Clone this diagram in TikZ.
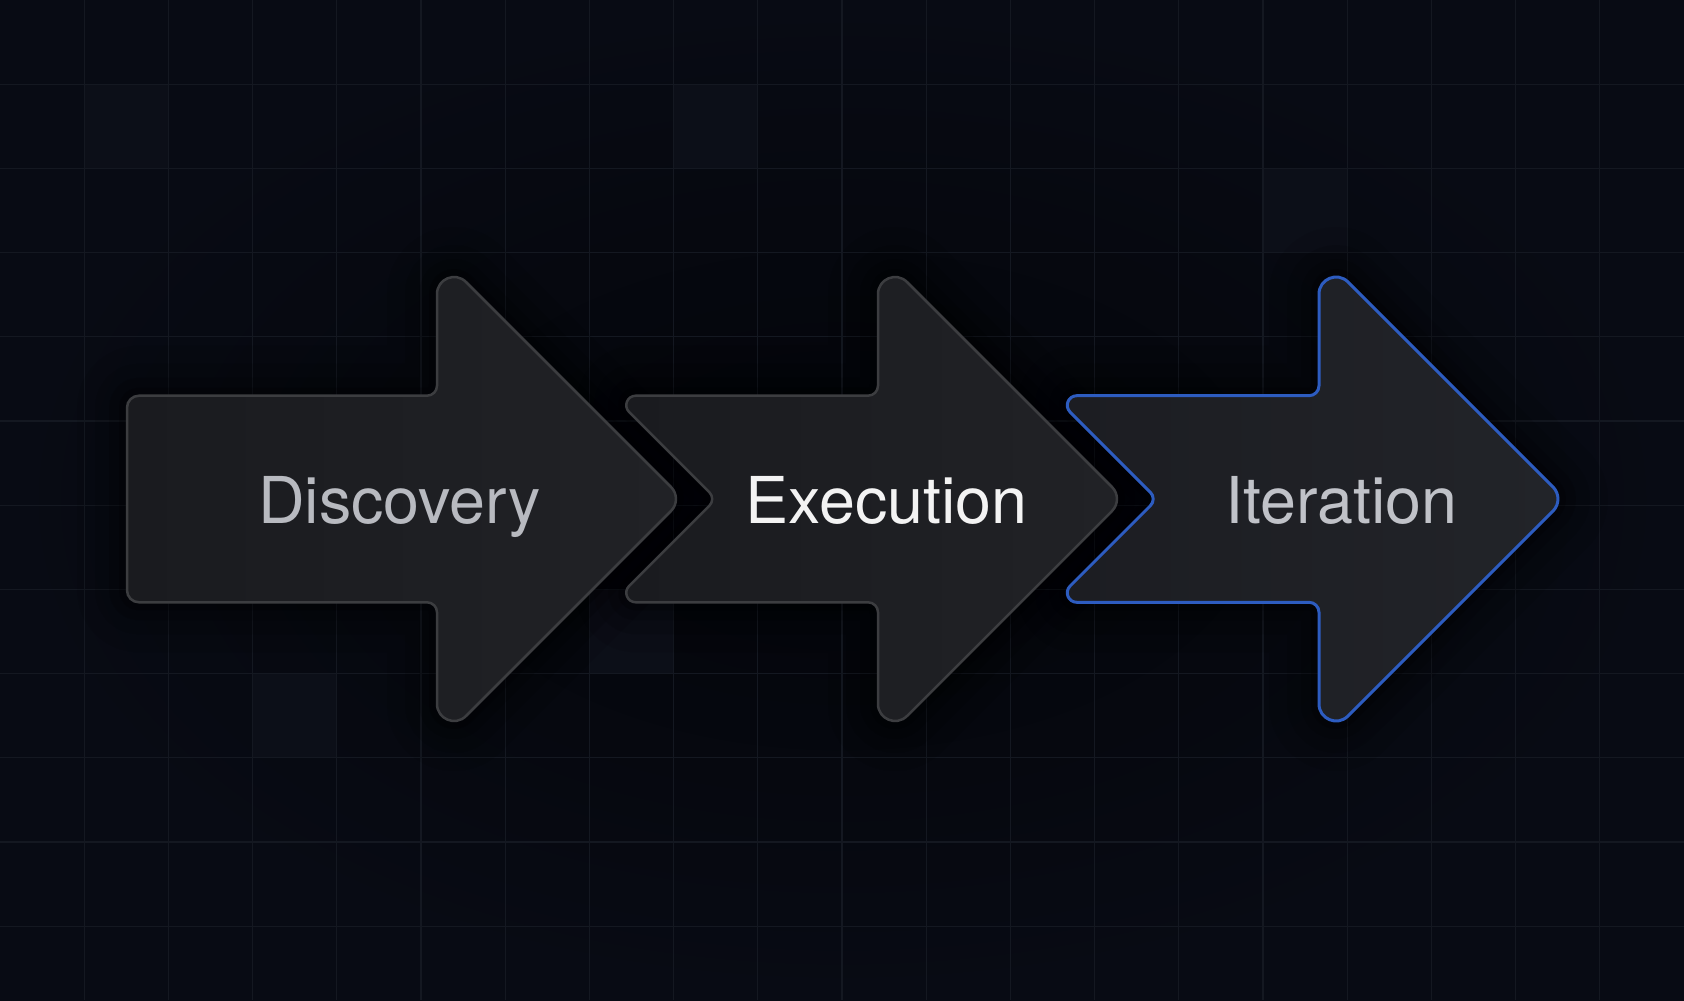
\documentclass[tikz,border=0pt]{standalone}
\usepackage{fontspec}
\setmainfont{TeX Gyre Heros}
\definecolor{bgedge}{HTML}{080B14}
\definecolor{bgmid}{HTML}{030409}
\definecolor{cellc}{HTML}{0C0F18}
\definecolor{gridc}{HTML}{141821}
\definecolor{arrowL}{HTML}{1A1B1F}
\definecolor{arrowR}{HTML}{212226}
\definecolor{iterL}{HTML}{1C1D22}
\definecolor{iterR}{HTML}{222429}
\definecolor{edgegray}{HTML}{3C3D40}
\definecolor{edgeblue}{HTML}{2D5CC0}
\definecolor{txtgray}{HTML}{B8BAC0}
\definecolor{txtwhite}{HTML}{F3F3F3}
\definecolor{txtgraytwo}{HTML}{C0C2C8}
\begin{document}
\begin{tikzpicture}[x=0.5pt,y=-0.5pt,
  headpart/.style={insert path={-- (-10,-103.3) .. controls (-4.48,-103.3) and (0,-107.78) .. (0,-113.3)
     -- (0,-205) .. controls (0,-220.1) and (18.31,-227.69) .. (28.99,-217.01)
     -- (233.98,-12.02) .. controls (240.61,-5.39) and (240.61,5.39) .. (233.98,12.02)
     -- (28.99,217.01) .. controls (18.31,227.69) and (0,220.1) .. (0,205)
     -- (0,113.3) .. controls (0,107.78) and (-4.48,103.3) .. (-10,103.3)}},
  discshape/.style={insert path={(-298,-103.3) [headpart]
     -- (-298,103.3) .. controls (-304.62,103.3) and (-310,97.92) .. (-310,91.3)
     -- (-310,-91.3) .. controls (-310,-97.92) and (-304.62,-103.3) .. (-298,-103.3) -- cycle}},
  notchshape/.style={insert path={(-242.2,-103.3) [headpart]
     -- (-242.2,103.3) .. controls (-250.7,103.3) and (-254.95,93.05) .. (-248.94,87.04)
     -- (-168.62,6.72) .. controls (-164.91,3.01) and (-164.91,-3.01) .. (-168.62,-6.72)
     -- (-248.94,-87.04) .. controls (-254.95,-93.05) and (-250.7,-103.3) .. (-242.2,-103.3) -- cycle}},
  halo/.style={draw=black, fill=black, line join=round},
  arrowbox/.style={left color=arrowL, right color=arrowR, draw=edgegray, line width=1.25pt, line join=round},
  activebox/.style={left color=iterL, right color=iterR, draw=edgeblue, line width=1.5pt, line join=round},
  lbl/.style={inner sep=0pt, anchor=base, font=\fontsize{32.3}{38}\selectfont}
]
% background
\useasboundingbox (0,0) rectangle (1684,1000);
\shade[inner color=bgmid, outer color=bgedge] (0,0) rectangle (1684,1000);
% lighter cells
\fill[cellc] (84.2,84.2) rectangle (168.4,168.4);
\fill[cellc] (673.6,84.2) rectangle (757.8,168.4);
\fill[cellc] (1263,168.4) rectangle (1347.2,252.6);
\fill[cellc] (252.6,673.6) rectangle (336.8,757.8);
\fill[cellc] (589.4,589.4) rectangle (673.6,673.6);
% grid
\foreach \i in {1,...,19} \draw[gridc, line width=0.6pt] (\i*84.2,0) -- (\i*84.2,1000);
\foreach \j in {1,...,11} \draw[gridc, line width=0.6pt] (0,\j*84.2) -- (1684,\j*84.2);
% dark halo behind the arrows
\foreach \w/\o in {50pt/0.08, 32pt/0.10, 18pt/0.14, 8pt/0.22} {
  \path[halo, line width=\w, opacity=\o, shift={(437,499)}] [discshape];
  \path[halo, line width=\w, opacity=\o, shift={(878,499)}] [notchshape];
  \path[halo, line width=\w, opacity=\o, shift={(1319,499)}] [notchshape];
}
% arrows
\path[arrowbox, shift={(437,499)}] [discshape];
\path[arrowbox, shift={(878,499)}] [notchshape];
\path[activebox, shift={(1319,499)}] [notchshape];
% labels
\node[lbl, text=txtgray] (tdisc) at (399.5,523) {Discovery};
\node[lbl, text=txtwhite] (texec) at (886.5,523) {Execution};
\node[lbl, text=txtgraytwo] (titer) at (1341.5,523) {Iteration};
\end{tikzpicture}
\end{document}
